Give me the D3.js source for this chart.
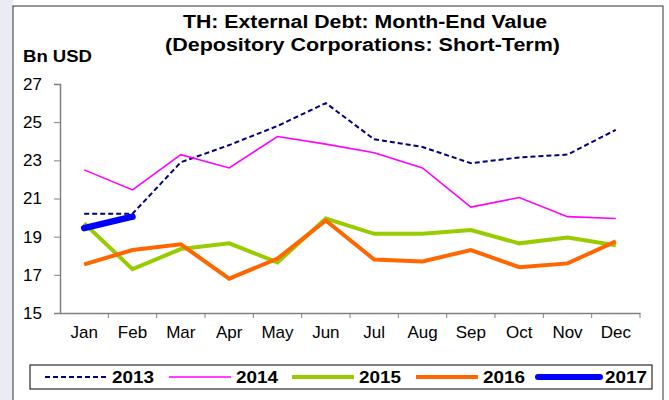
<!DOCTYPE html>
<html>
<head>
<meta charset="utf-8">
<script src="https://cdn.jsdelivr.net/npm/d3@7"></script>
<style>
  body { margin: 0; background: #fff; }
  text { font-family: "Liberation Sans", Arial, sans-serif; }
</style>
</head>
<body>
<div id="chart"></div>
<script>
// Data
const months = ['Jan', 'Feb', 'Mar', 'Apr', 'May', 'Jun', 'Jul', 'Aug', 'Sep', 'Oct', 'Nov', 'Dec'];
const yTicks = [15, 17, 19, 21, 23, 25, 27];
const v2013 = [20.2, 20.2, 22.9, 23.8, 24.8, 26.0, 24.1, 23.7, 22.85, 23.15, 23.3, 24.6];
const v2014 = [22.5, 21.45, 23.3, 22.6, 24.25, 23.85, 23.4, 22.6, 20.55, 21.05, 20.05, 19.95];
const v2015 = [19.7, 17.3, 18.35, 18.65, 17.65, 19.95, 19.15, 19.15, 19.35, 18.65, 18.95, 18.55];
const v2016 = [17.55, 18.3, 18.6, 16.8, 17.85, 19.85, 17.8, 17.7, 18.3, 17.4, 17.6, 18.75];
const v2017 = [19.45, 20.05];

const series = [
  { name: '2013', values: v2013, color: '#000080', width: 2, dash: '5,3' },
  { name: '2014', values: v2014, color: '#ff00ff', width: 1.6, dash: null },
  { name: '2015', values: v2015, color: '#99cc00', width: 4, dash: null },
  { name: '2016', values: v2016, color: '#ff6600', width: 4, dash: null },
  { name: '2017', values: v2017, color: '#0000ff', width: 6.5, dash: null }
];

const width = 669;
const height = 400;
const plot = { left: 60, right: 640, top: 84, bottom: 313 };

const svg = d3.select('#chart')
  .append('svg')
  .attr('width', width)
  .attr('height', height);

// faint strip left of the frame
svg.append('rect').attr('width', 13).attr('height', height).attr('fill', '#ebebf5');
svg.append('rect')
  .attr('x', 13).attr('y', 6)
  .attr('width', 650).attr('height', 400)
  .attr('fill', '#fff')
  .attr('stroke', '#333')
  .attr('stroke-width', 1);

const x = d3.scaleBand()
  .domain(months)
  .range([plot.left, plot.right]);

const y = d3.scaleLinear()
  .domain([15, 27])
  .range([plot.bottom, plot.top]);

// Title (the reference font is a bit wide, so stretch it)
svg.append('text')
  .attr('x', 183).attr('y', 28)
  .attr('font-size', '18px')
  .attr('font-weight', 'bold')
  .attr('textLength', 364)
  .attr('lengthAdjust', 'spacingAndGlyphs')
  .text('TH: External Debt: Month-End Value');
svg.append('text')
  .attr('x', 165).attr('y', 51)
  .attr('font-size', '18px')
  .attr('font-weight', 'bold')
  .attr('textLength', 395)
  .attr('lengthAdjust', 'spacingAndGlyphs')
  .text('(Depository Corporations: Short-Term)');

svg.append('text')
  .attr('x', 23).attr('y', 62)
  .attr('font-size', '16px')
  .attr('font-weight', 'bold')
  .attr('textLength', 69)
  .attr('lengthAdjust', 'spacingAndGlyphs')
  .text('Bn USD');

// Y axis
const yAxis = svg.append('g')
  .attr('transform', `translate(${plot.left},0)`)
  .call(d3.axisLeft(y).tickValues(yTicks).tickSize(6).tickPadding(12));
yAxis.select('.domain').attr('stroke', '#808080').attr('stroke-width', 1.5);
yAxis.selectAll('line').attr('stroke', '#808080');
yAxis.selectAll('text').attr('font-size', '17px').attr('fill', '#000')
  .style('font-family', '"Liberation Sans", Arial, sans-serif');

// X axis with ticks at band boundaries
const xAxis = svg.append('g')
  .attr('transform', `translate(0,${plot.bottom})`)
  .call(d3.axisBottom(x).tickSize(0).tickPadding(13));
xAxis.select('.domain').attr('stroke', '#808080').attr('stroke-width', 1.5);
xAxis.selectAll('text').attr('font-size', '17px').attr('fill', '#000')
  .style('font-family', '"Liberation Sans", Arial, sans-serif');
xAxis.selectAll('.bound')
  .data(months)
  .enter()
  .append('line')
  .attr('x1', d => x(d) + x.bandwidth())
  .attr('x2', d => x(d) + x.bandwidth())
  .attr('y1', 0).attr('y2', 5)
  .attr('stroke', '#808080');

// Lines
const line = d3.line()
  .x((d, i) => x(months[i]) + x.bandwidth() / 2)
  .y(d => y(d));

series.forEach(s => {
  svg.append('path')
    .datum(s.values)
    .attr('d', line)
    .attr('fill', 'none')
    .attr('stroke', s.color)
    .attr('stroke-width', s.width)
    .attr('stroke-dasharray', s.dash)
    .attr('stroke-linecap', s.name === '2017' ? 'round' : 'butt')
    .attr('stroke-linejoin', 'miter');
});

// Legend
svg.append('rect')
  .attr('x', 30).attr('y', 365)
  .attr('width', 622).attr('height', 24)
  .attr('fill', '#fff')
  .attr('stroke', '#000');

const legendX = [45, 169, 292, 416, 538];
const legend = svg.selectAll('.legend')
  .data(series)
  .enter()
  .append('g')
  .attr('transform', (d, i) => `translate(${legendX[i]},377)`);

legend.append('line')
  .attr('x1', 0).attr('x2', 62)
  .attr('y1', 0).attr('y2', 0)
  .attr('stroke', d => d.color)
  .attr('stroke-width', d => d.name === '2017' ? 6 : d.width)
  .attr('stroke-dasharray', d => d.dash)
  .attr('stroke-linecap', d => d.name === '2017' ? 'round' : 'butt');

legend.append('text')
  .attr('x', 67).attr('y', 6)
  .attr('font-size', '17px')
  .attr('font-weight', 'bold')
  .attr('textLength', 42)
  .attr('lengthAdjust', 'spacingAndGlyphs')
  .text(d => d.name);
</script>
</body>
</html>
